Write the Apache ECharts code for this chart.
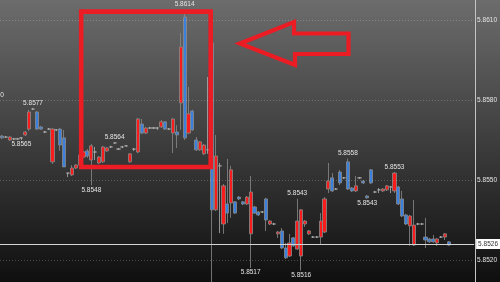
<!DOCTYPE html>
<html>
<head>
<meta charset="utf-8">
<script src="https://cdn.jsdelivr.net/npm/echarts@6/dist/echarts.min.js"></script>
<style>
  html, body { margin: 0; padding: 0; }
  #main { width: 500px; height: 282px; }
</style>
</head>
<body>
<div id="main"></div>
<script>
// candles: [open, close, low, high]; blue = rising, red = falling
const candles = [
  [5.85658, 5.85665, 5.85654, 5.85669],
  [5.85661, 5.85661, 5.85658, 5.85665],
  [5.85661, 5.85650, 5.85646, 5.85665],
  [5.85654, 5.85654, 5.85650, 5.85658],
  [5.85654, 5.85654, 5.85652, 5.85658],
  [5.85658, 5.85658, 5.85650, 5.85661],
  [5.85680, 5.85669, 5.85665, 5.85684],
  [5.85755, 5.85691, 5.85684, 5.85763],
  [5.85766, 5.85766, 5.85763, 5.85770],
  [5.85691, 5.85755, 5.85688, 5.85759],
  [5.85691, 5.85699, 5.85688, 5.85703],
  [5.85680, 5.85680, 5.85676, 5.85684],
  [5.85691, 5.85691, 5.85688, 5.85695],
  [5.85691, 5.85568, 5.85560, 5.85695],
  [5.85688, 5.85688, 5.85684, 5.85691],
  [5.85631, 5.85691, 5.85609, 5.85695],
  [5.85549, 5.85658, 5.85549, 5.85688],
  [5.85526, 5.85526, 5.85511, 5.85526],
  [5.85545, 5.85519, 5.85515, 5.85556],
  [5.85556, 5.85545, 5.85541, 5.85560],
  [5.85594, 5.85556, 5.85553, 5.85601],
  [5.85605, 5.85586, 5.85583, 5.85609],
  [5.85590, 5.85609, 5.85583, 5.85616],
  [5.85628, 5.85575, 5.85480, 5.85635],
  [5.85605, 5.85605, 5.85575, 5.85624],
  [5.85586, 5.85564, 5.85560, 5.85590],
  [5.85624, 5.85568, 5.85564, 5.85628],
  [5.85620, 5.85609, 5.85605, 5.85624],
  [5.85624, 5.85624, 5.85620, 5.85628],
  [5.85639, 5.85639, 5.85635, 5.85640],
  [5.85616, 5.85616, 5.85613, 5.85620],
  [5.85624, 5.85624, 5.85620, 5.85628],
  [5.85628, 5.85628, 5.85624, 5.85631],
  [5.85598, 5.85568, 5.85564, 5.85601],
  [5.85616, 5.85616, 5.85609, 5.85620],
  [5.85729, 5.85605, 5.85601, 5.85733],
  [5.85676, 5.85710, 5.85672, 5.85729],
  [5.85695, 5.85676, 5.85672, 5.85699],
  [5.85695, 5.85695, 5.85691, 5.85699],
  [5.85695, 5.85695, 5.85691, 5.85699],
  [5.85695, 5.85695, 5.85688, 5.85699],
  [5.85718, 5.85699, 5.85695, 5.85725],
  [5.85691, 5.85718, 5.85688, 5.85721],
  [5.85691, 5.85691, 5.85688, 5.85695],
  [5.85729, 5.85676, 5.85601, 5.85733],
  [5.85669, 5.85680, 5.85620, 5.85706],
  [5.85999, 5.85789, 5.85688, 5.86051],
  [5.85658, 5.86111, 5.85650, 5.86140],
  [5.85748, 5.85676, 5.85672, 5.85849],
  [5.85688, 5.85759, 5.85684, 5.85763],
  [5.85613, 5.85650, 5.85609, 5.85661],
  [5.85643, 5.85613, 5.85609, 5.85646],
  [5.85631, 5.85598, 5.85594, 5.85635],
  [5.85613, 5.85613, 5.85598, 5.85886],
  [5.85388, 5.86014, 5.85050, 5.86014],
  [5.85590, 5.85388, 5.85384, 5.85669],
  [5.85553, 5.85553, 5.85301, 5.85564],
  [5.85478, 5.85335, 5.85298, 5.85485],
  [5.85376, 5.85410, 5.85339, 5.85579],
  [5.85538, 5.85414, 5.85358, 5.85553],
  [5.85376, 5.85418, 5.85373, 5.85421],
  [5.85429, 5.85436, 5.85425, 5.85440],
  [5.85410, 5.85418, 5.85406, 5.85421],
  [5.85436, 5.85410, 5.85406, 5.85440],
  [5.85455, 5.85298, 5.85170, 5.85515],
  [5.85376, 5.85399, 5.85373, 5.85403],
  [5.85369, 5.85380, 5.85365, 5.85384],
  [5.85380, 5.85380, 5.85376, 5.85384],
  [5.85350, 5.85429, 5.85309, 5.85433],
  [5.85346, 5.85335, 5.85331, 5.85350],
  [5.85335, 5.85335, 5.85331, 5.85339],
  [5.85305, 5.85298, 5.85283, 5.85309],
  [5.85245, 5.85309, 5.85241, 5.85320],
  [5.85208, 5.85245, 5.85204, 5.85264],
  [5.85264, 5.85215, 5.85211, 5.85298],
  [5.85253, 5.85283, 5.85249, 5.85286],
  [5.85346, 5.85241, 5.85238, 5.85430],
  [5.85388, 5.85215, 5.85160, 5.85391],
  [5.85346, 5.85335, 5.85324, 5.85350],
  [5.85309, 5.85298, 5.85294, 5.85313],
  [5.85286, 5.85286, 5.85283, 5.85290],
  [5.85286, 5.85286, 5.85283, 5.85290],
  [5.85346, 5.85286, 5.85260, 5.85376],
  [5.85429, 5.85305, 5.85301, 5.85436],
  [5.85496, 5.85466, 5.85451, 5.85564],
  [5.85459, 5.85508, 5.85455, 5.85526],
  [5.85466, 5.85466, 5.85463, 5.85470],
  [5.85489, 5.85530, 5.85481, 5.85538],
  [5.85508, 5.85508, 5.85504, 5.85511],
  [5.85466, 5.85568, 5.85463, 5.85580],
  [5.85459, 5.85470, 5.85455, 5.85474],
  [5.85478, 5.85459, 5.85455, 5.85515],
  [5.85508, 5.85508, 5.85504, 5.85511],
  [5.85489, 5.85496, 5.85485, 5.85500],
  [5.85433, 5.85440, 5.85430, 5.85444],
  [5.85489, 5.85538, 5.85485, 5.85541],
  [5.85455, 5.85455, 5.85451, 5.85459],
  [5.85463, 5.85463, 5.85451, 5.85470],
  [5.85466, 5.85459, 5.85455, 5.85470],
  [5.85478, 5.85463, 5.85459, 5.85481],
  [5.85474, 5.85474, 5.85451, 5.85478],
  [5.85526, 5.85459, 5.85451, 5.85530],
  [5.85410, 5.85474, 5.85406, 5.85478],
  [5.85365, 5.85429, 5.85361, 5.85459],
  [5.85335, 5.85369, 5.85331, 5.85373],
  [5.85365, 5.85328, 5.85253, 5.85369],
  [5.85331, 5.85256, 5.85253, 5.85425],
  [5.85335, 5.85335, 5.85331, 5.85339],
  [5.85335, 5.85335, 5.85331, 5.85339],
  [5.85275, 5.85286, 5.85245, 5.85358],
  [5.85268, 5.85279, 5.85264, 5.85283],
  [5.85268, 5.85279, 5.85264, 5.85294],
  [5.85279, 5.85264, 5.85253, 5.85283],
  [5.85286, 5.85286, 5.85283, 5.85290],
  [5.85298, 5.85286, 5.85275, 5.85301],
  [5.85256, 5.85268, 5.85253, 5.85271]
]

// bar slots on the x axis (some empty space after the last candle)
const slotCount = 122
const categories = Array.from({ length: slotCount }, (_, i) => String(i + 1))

// price labels: [candle index, text]
const highLabels = [[8, '5.8577'], [29, '5.8564'], [47, '5.8614'], [76, '5.8543'], [89, '5.8558'], [101, '5.8553']]
const lowLabels = [[5, '5.8565'], [23, '5.8548'], [64, '5.8517'], [77, '5.8516'], [94, '5.8543']]

const priceTicks = [5.852, 5.855, 5.858, 5.861]
const lastPrice = 5.8526
const yMin = 5.851175
const yMax = 5.86175

const chart = echarts.init(document.getElementById('main'))

const labelFont = { fontFamily: 'Liberation Sans', fontSize: 6.5, color: '#e4e4e4' }

const markPoints = []
highLabels.forEach(([i, txt]) => {
  markPoints.push({
    coord: [i, candles[i][3]],
    label: { show: true, formatter: txt, position: 'top', distance: 1.5, ...labelFont }
  })
})
lowLabels.forEach(([i, txt]) => {
  markPoints.push({
    coord: [i, candles[i][2]],
    label: { show: true, formatter: txt, position: 'bottom', distance: 1, ...labelFont }
  })
})

const gridLines = priceTicks.map(v => ({
  yAxis: v,
  lineStyle: { color: 'rgba(255,255,255,0.22)', type: [1, 2], width: 1 },
  label: { show: false }
}))

chart.setOption({
  animation: false,
  backgroundColor: {
    type: 'linear', x: 0, y: 0, x2: 0, y2: 1,
    colorStops: [
      { offset: 0, color: '#6c6c6c' },
      { offset: 1, color: '#0f0f0f' }
    ]
  },
  grid: { left: 0, right: 25, top: 0, bottom: 0 },
  xAxis: {
    type: 'category',
    data: categories,
    boundaryGap: true,
    show: false
  },
  yAxis: {
    type: 'value',
    position: 'right',
    min: yMin,
    max: yMax,
    scale: true,
    axisLine: { show: false },
    axisTick: { show: false },
    splitLine: { show: false },
    axisLabel: {
      customValues: priceTicks,
      margin: 3,
      formatter: v => v.toFixed(4),
      ...labelFont
    }
  },
  series: [{
    type: 'candlestick',
    data: candles,
    barWidth: 3.6,
    clip: true,
    itemStyle: {
      color: '#3b80dc',
      color0: '#f81c1c',
      borderColor: '#8a8a8a',
      borderColor0: '#8a8a8a',
      borderColorDoji: '#b0b0b0',
      borderWidth: 0.8
    },
    markLine: {
      symbol: 'none',
      silent: true,
      precision: 5,
      data: gridLines.concat([{
        yAxis: lastPrice,
        lineStyle: { color: '#d4d4d4', type: 'solid', width: 1 },
        label: {
          show: true,
          position: 'end',
          distance: 2,
          formatter: lastPrice.toFixed(4),
          backgroundColor: '#ffffff',
          padding: [2, 2, 1, 2],
          fontFamily: 'Liberation Sans',
          fontSize: 6.5,
          color: '#333'
        }
      }])
    },
    markPoint: {
      symbol: 'circle',
      symbolSize: 0,
      silent: true,
      data: markPoints
    }
  }],
  graphic: [
    {
      type: 'line',
      z: 50,
      shape: { x1: 475.5, y1: 0, x2: 475.5, y2: 282 },
      style: { stroke: '#c4c4c4', lineWidth: 1 }
    },
    {
      type: 'text',
      left: -16,
      top: 92,
      style: { text: '5.8580', font: '6.5px "Liberation Sans"', fill: '#e4e4e4' }
    },
    {
      type: 'rect',
      z: 100,
      shape: { x: 81.2, y: 11.6, width: 129.5, height: 155.4 },
      style: { fill: 'none', stroke: '#ec1c24', lineWidth: 4.6 }
    },
    {
      type: 'polygon',
      z: 100,
      shape: {
        points: [[240, 43.5], [294, 22], [294, 33.5], [348.5, 33.5], [348.5, 54], [295, 54], [295, 65]]
      },
      style: { fill: 'none', stroke: '#ec1c24', lineWidth: 4.2, lineJoin: 'miter' }
    }
  ]
})
</script>
</body>
</html>
